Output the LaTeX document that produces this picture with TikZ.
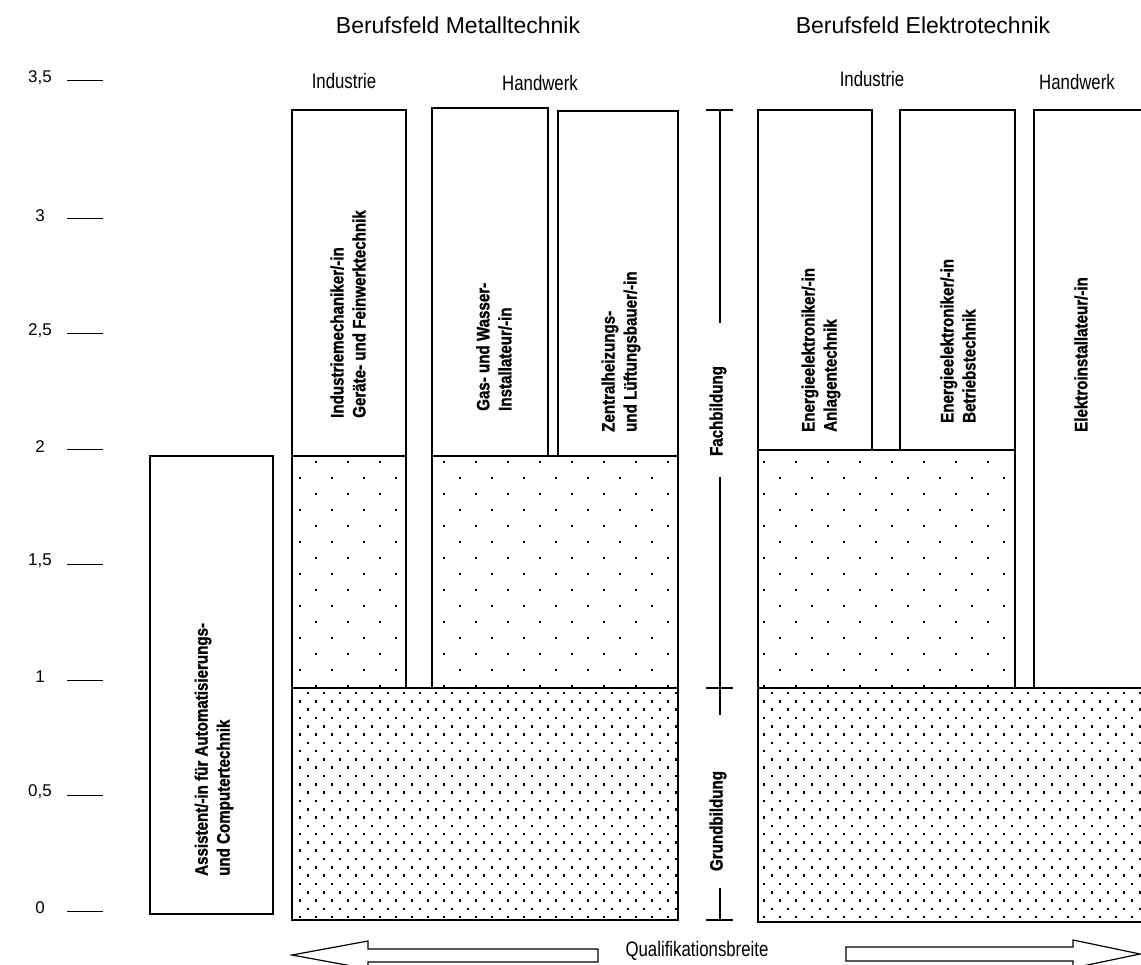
\documentclass[tikz,border=0pt]{standalone}
\usepackage{fontspec}
\setmainfont{Liberation Sans}
\newfontfamily\narrowfont[FakeStretch=0.8]{Liberation Sans}
\newfontfamily\boxfont[FakeStretch=0.84,FakeBold=1.2]{Liberation Sans}

% sparse dot lattice (Fachbildung part of the columns)
\newcommand{\sparsedots}[3]{% node, first column, last column
  \begin{scope}
    \clip (#1.south west) rectangle (#1.north east);
    \foreach \k in {0,...,16}{
      \pgfmathsetmacro{\yy}{446+16*\k}
      \pgfmathsetmacro{\xo}{ifthenelse(mod(\k,2)==0,300,316)}
      \foreach \i in {#2,...,#3}{
        \fill ({\xo+32*\i-1.4},{\yy-1.4}) rectangle ++(2.8,2.8);
      }
    }
  \end{scope}}
% dense dot lattice (Grundbildung)
\newcommand{\densedots}[3]{%
  \begin{scope}
    \clip (#1.south west) rectangle (#1.north east);
    \foreach \k in {0,...,27}{
      \pgfmathsetmacro{\yy}{693+8.3*\k}
      \pgfmathsetmacro{\xo}{ifthenelse(mod(\k,2)==0,308,300)}
      \foreach \i in {#2,...,#3}{
        \fill ({\xo+16*\i-1.3},{\yy-1.3}) rectangle ++(2.6,2.6);
      }
    }
  \end{scope}}

\begin{document}
\begin{tikzpicture}[x=1pt,y=-1pt,
  frame/.style={draw, line width=1.2pt, rectangle, inner sep=0pt, outer sep=0pt, anchor=north west},
  jobtext/.style={rotate=90, anchor=west, align=left, inner sep=0pt,
    font=\boxfont\bfseries\fontsize{18}{22}\selectfont},
  sidetext/.style={rotate=90, inner sep=0pt, font=\boxfont\bfseries\fontsize{18}{22}\selectfont},
  head/.style={inner sep=0pt, font=\fontsize{23}{27}\selectfont},
  sub/.style={inner sep=0pt, font=\narrowfont\fontsize{21}{25}\selectfont},
  axislabel/.style={inner sep=0pt, font=\fontsize{17}{20}\selectfont},
  rule/.style={line width=1.2pt},
  bigarrow/.style={draw, line width=1.2pt, fill=white, line join=miter}]

\useasboundingbox (0,0) rectangle (1141,965);
\clip (0,0) rectangle (1141,965);

% ---- headings ----
\node[head] (hmetall) at (458,25) {Berufsfeld Metalltechnik};
\node[head] (helektro) at (923,25) {Berufsfeld Elektrotechnik};
\node[sub] (mind) at (344,81) {Industrie};
\node[sub] (mhw) at (540,83) {Handwerk};
\node[sub] (eind) at (872,79) {Industrie};
\node[sub] (ehw) at (1077,82) {Handwerk};

% ---- vertical scale ----
\foreach \lab/\yy [count=\n] in {3{,}5/78, 3/216, 2{,}5/331, 2/447, 1{,}5/561, 1/677, 0{,}5/792, 0/908}{
  \node[axislabel] (ax\n) at (40,\yy) {\lab};
  \draw[line width=1pt] (67,\yy+3) -- (103,\yy+3);
}

% ---- boxes, Metalltechnik ----
\node[frame, minimum width=123pt, minimum height=458pt] (assist) at (150,456) {};
\node[frame, minimum width=114pt, minimum height=346pt] (indm) at (292,110) {};
\node[frame, minimum width=116pt, minimum height=348pt] (gas) at (432,108) {};
\node[frame, minimum width=120pt, minimum height=345pt] (zent) at (558,111) {};
\node[frame, minimum width=114pt, minimum height=232pt] (indmdot) at (292,456) {};
\node[frame, minimum width=246pt, minimum height=232pt] (hwdot) at (432,456) {};
\node[frame, minimum width=386pt, minimum height=232pt] (mgrund) at (292,688) {};

% ---- boxes, Elektrotechnik ----
\node[frame, minimum width=114pt, minimum height=340pt] (anl) at (758,110) {};
\node[frame, minimum width=115pt, minimum height=340pt] (betr) at (900,110) {};
\node[frame, minimum width=130pt, minimum height=578pt] (elinst) at (1034,110) {};
\node[frame, minimum width=257pt, minimum height=238pt] (eldot) at (758,450) {};
\node[frame, minimum width=400pt, minimum height=234pt] (egrund) at (758,688) {};

% ---- dot fillings ----
\sparsedots{indmdot}{0}{4}
\sparsedots{hwdot}{3}{12}
\sparsedots{eldot}{14}{22}
\densedots{mgrund}{-1}{24}
\densedots{egrund}{28}{53}

% redraw the frames over the dots
\foreach \b in {indmdot,hwdot,mgrund,eldot,egrund}{
  \draw[line width=1.2pt] (\b.south west) rectangle (\b.north east);
}

% ---- job titles ----
\node[jobtext] (tindm) at (348,418) {Industriemechaniker/-in\\Geräte- und Feinwerktechnik};
\node[jobtext] (tgas) at (494,411) {Gas- und Wasser-\\Installateur/-in};
\node[jobtext] (tzent) at (621,432) {Zentralheizungs-\\und Lüftungsbauer/-in};
\node[jobtext] (tanl) at (821,432) {Energieelektroniker/-in\\Anlagentechnik};
\node[jobtext] (tbetr) at (958,423) {Energieelektroniker/-in\\Betriebstechnik};
\node[jobtext] (tinst) at (1081,432) {Elektroinstallateur/-in};
\node[jobtext] (tassist) at (214,876) {Assistent/-in für Automatisierungs-\\und Computertechnik};

% ---- Fachbildung / Grundbildung bracket ----
\node[sidetext] (fach) at (718,411) {Fachbildung};
\node[sidetext] (grund) at (718,821) {Grundbildung};
\coordinate (btop) at (720,110);
\coordinate (bmid) at (720,688);
\coordinate (bbot) at (720,920);
\draw[rule] (706,110) -- (733,110);
\draw[rule] (706,688) -- (733,688);
\draw[rule] (706,920) -- (733,920);
\draw[rule] (btop) -- (720,323);
\draw[rule] (720,477) -- (720,715);
\draw[rule] (720,888) -- (bbot);

% ---- Qualifikationsbreite arrows ----
\node[sub] (qual) at (697,951) {Qualifikationsbreite};
\draw[bigarrow] (292,955) -- (368,941) -- (368,949) -- (598,949) -- (598,962)
  -- (368,962) -- (368,969) -- cycle;
\draw[bigarrow] (1140,954) -- (1073,940) -- (1073,947) -- (846,947) -- (846,961)
  -- (1073,961) -- (1073,968) -- cycle;
\end{tikzpicture}
\end{document}
